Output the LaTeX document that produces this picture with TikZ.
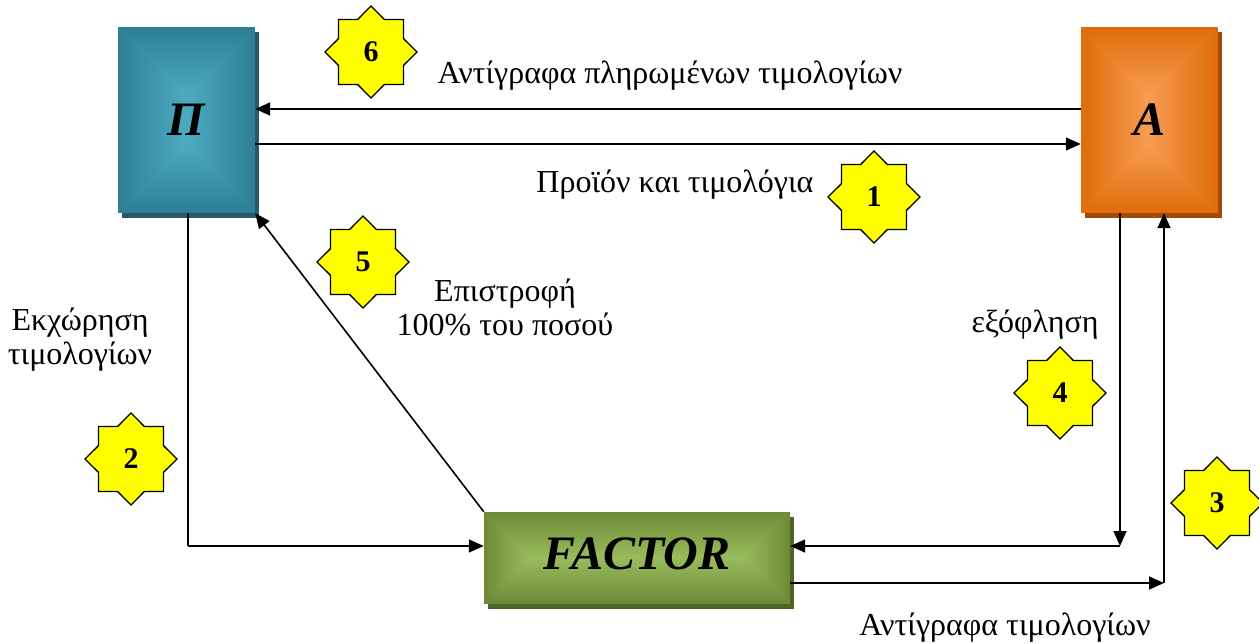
\documentclass[tikz,border=0pt]{standalone}
\usepackage{fontspec}
\setmainfont{Liberation Serif}
\usetikzlibrary{arrows.meta,shapes.geometric}
\definecolor{pEdge}{HTML}{2E7F96}
\definecolor{pCen}{HTML}{4CAAC0}
\definecolor{pSh}{HTML}{285A69}
\definecolor{aEdge}{HTML}{E06C0C}
\definecolor{aCen}{HTML}{F69C52}
\definecolor{aSh}{HTML}{A04B0A}
\definecolor{fEdge}{HTML}{6E8A37}
\definecolor{fCen}{HTML}{98BB5C}
\definecolor{fSh}{HTML}{506428}
\definecolor{starY}{HTML}{FFFF00}
\newcommand\gradrect[7]{%
  \fill[#7] ({#1+4},{#2+5}) rectangle ({#3+4},{#4+5});
  \pgfmathsetmacro\hw{(#3-#1)/2}\pgfmathsetmacro\hh{(#4-#2)/2}
  \pgfmathsetmacro\mm{min(\hw,\hh)}
  \foreach \i in {0,...,30}{
    \pgfmathsetmacro\dd{\mm*\i/31}
    \pgfmathtruncatemacro\pp{100*\i/30}
    \fill[#6!\pp!#5] ({#1+\dd},{#2+\dd}) rectangle ({#3-\dd},{#4-\dd});
  }%
}
\tikzset{
  arr/.style={line width=1.6pt,-{Triangle[length=15pt,width=13pt]}},
  ln/.style={line width=1.6pt},
  lbl/.style={font=\fontsize{32}{34}\selectfont, align=center, inner sep=0pt},
  boxnode/.style={rectangle, inner sep=0pt, font=\fontsize{48}{48}\selectfont\bfseries\itshape},
  badge/.style={star, star points=8, star point ratio=1.31, minimum size=92pt, inner sep=0pt,
    fill=starY, draw=black, line width=1.3pt, font=\fontsize{30}{30}\selectfont\bfseries}
}
\begin{document}
\begin{tikzpicture}[x=1pt,y=-1pt]
\useasboundingbox (0,0) rectangle (1259,644);
% boxes
\gradrect{118}{27}{255}{213}{pEdge}{pCen}{pSh}
\gradrect{1081}{27}{1218}{213}{aEdge}{aCen}{aSh}
\gradrect{484}{512}{790}{604}{fEdge}{fCen}{fSh}
\node[boxnode, minimum width=137pt, minimum height=186pt] (P) at (186.5,120) {Π};
\node[boxnode, minimum width=137pt, minimum height=186pt] (A) at (1149.5,120) {A};
\node[boxnode, minimum width=306pt, minimum height=92pt] (F) at (637,558) {\raisebox{8pt}{FACTOR}};
% connectors
\coordinate (t1) at (0,109);
\coordinate (t2) at (0,144);
\coordinate (b1) at (188,546);
\coordinate (b2) at (1120,546);
\coordinate (b3) at (1164,583);
\draw[arr] (A.west |- t1) -- (P.east |- t1);
\draw[arr] (P.east |- t2) -- (A.west |- t2);
\draw[ln] (P.south -| b1) -- (b1);
\draw[arr] (b1) -- (F.west |- b1);
\draw[arr] (F.north west) -- (P.south east);
\draw[arr] (A.south -| b2) -- (b2);
\draw[arr] (b2) -- (F.east |- b2);
\draw[arr] (F.east |- b3) -- (b3);
\draw[arr] (b3) -- (A.south -| b3);
% labels
\node[lbl, anchor=base] (l6) at (670,84) {Αντίγραφα πληρωμένων τιμολογίων};
\node[lbl, anchor=base] (l1) at (675,193) {Προϊόν και τιμολόγια};
\node[lbl, anchor=base] (l2) at (80,365) {Εκχώρηση\\τιμολογίων};
\node[lbl, anchor=base] (l5) at (505,336) {Επιστροφή\\100\% του ποσού};
\node[lbl, anchor=base] (l4) at (1035,333) {εξόφληση};
\node[lbl, anchor=base] (l3) at (1005,635) {Αντίγραφα τιμολογίων};
% badges
\node[badge] (s6) at (371,52) {6};
\node[badge] (s1) at (874,197) {1};
\node[badge] (s5) at (363,262) {5};
\node[badge] (s2) at (131,459) {2};
\node[badge] (s4) at (1060,393) {4};
\node[badge] (s3) at (1217,503) {3};
\end{tikzpicture}
\end{document}
